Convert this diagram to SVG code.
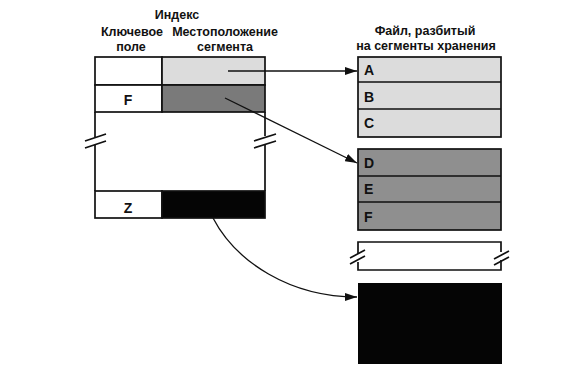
<svg xmlns="http://www.w3.org/2000/svg" width="575" height="372" viewBox="0 0 575 372">
<style>
text{font-family:"Liberation Sans",Arial,sans-serif;font-weight:bold;font-size:12.5px;fill:#111}
.hd{text-anchor:middle}
.seg{font-size:14px}
.ln{stroke:#111;stroke-width:1.7;fill:none}
.light{fill:#dcdcdc}
.mid{fill:#8f8f8f}
.midd{fill:#7a7a7a}
.dark{fill:#050505}
.white{fill:#fff}
.conn{stroke:#111;stroke-width:1.3;fill:none;marker-end:url(#ah)}
</style>
<defs>
<marker id="ah" markerWidth="12" markerHeight="8" refX="12" refY="4" orient="auto" markerUnits="userSpaceOnUse">
<path d="M0,0 L12,4 L0,8 Z" fill="#111"/>
</marker>
</defs>
<rect width="575" height="372" fill="#fff"/>

<g id="index-header">
<text class="hd" x="177" y="19">Индекс</text>
<text class="hd" x="132" y="36">Ключевое</text>
<text class="hd" x="131" y="51">поле</text>
<text class="hd" x="225" y="36">Местоположение</text>
<text class="hd" x="225" y="51">сегмента</text>
</g>

<g id="file-header">
<text class="hd" x="425" y="35">Файл, разбитый</text>
<text class="hd" x="426" y="50">на сегменты хранения</text>
</g>

<g id="index-row1">
<rect class="white ln" x="95" y="57" width="67" height="28"/>
<rect class="light" x="162" y="57" width="103" height="28"/>
<rect class="ln" x="162" y="57" width="103" height="28"/>
</g>

<g id="index-row-F">
<rect class="white ln" x="95" y="85" width="67" height="27"/>
<rect class="midd" x="162" y="85" width="103" height="27"/>
<rect class="ln" x="162" y="85" width="103" height="27"/>
<text class="hd seg" x="128" y="105">F</text>
</g>

<g id="index-gap">
<path class="ln" d="M95,112 V137 M95,145 V191 M265,112 V136 M265,144 V191"/>
<path class="ln" d="M85,141 L106,134 M85,148 L106,141 M254,141 L276,134 M254,148 L276,141" stroke-width="1.3"/>
</g>

<g id="index-row-Z">
<rect class="white ln" x="95" y="191" width="67" height="27"/>
<rect class="dark" x="162" y="191" width="103" height="27"/>
<rect class="ln" x="162" y="191" width="103" height="27"/>
<text class="hd seg" x="128" y="213">Z</text>
</g>

<g id="segment-ABC">
<rect class="light" x="358" y="57" width="143" height="80"/>
<path class="ln" d="M358,82 H501 M358,109 H501"/>
<rect class="ln" x="358" y="57" width="143" height="80"/>
<text class="seg" x="364" y="75">A</text>
<text class="seg" x="364" y="102">B</text>
<text class="seg" x="364" y="128">C</text>
</g>

<g id="segment-DEF">
<rect class="mid" x="358" y="149" width="143" height="81"/>
<path class="ln" d="M358,176 H501 M358,202 H501"/>
<rect class="ln" x="358" y="149" width="143" height="81"/>
<text class="seg" x="364" y="168">D</text>
<text class="seg" x="364" y="194">E</text>
<text class="seg" x="364" y="222">F</text>
</g>

<g id="segment-gap">
<path class="ln" d="M358,254 V242 H501 V252 M501,260 V270 H358 V262"/>
<path class="ln" d="M350,258 L365,250 M350,264 L365,256 M494,259 L509,251 M494,265 L509,257" stroke-width="1.3"/>
</g>

<g id="segment-Z">
<rect class="dark" x="358" y="283" width="144" height="81"/>
</g>

<g id="connectors">
<path class="conn" d="M228,71 H357"/>
<path class="conn" d="M225,98 L357,163"/>
<path class="conn" d="M213,218 C236,262 290,297 357,297"/>
</g>
</svg>
